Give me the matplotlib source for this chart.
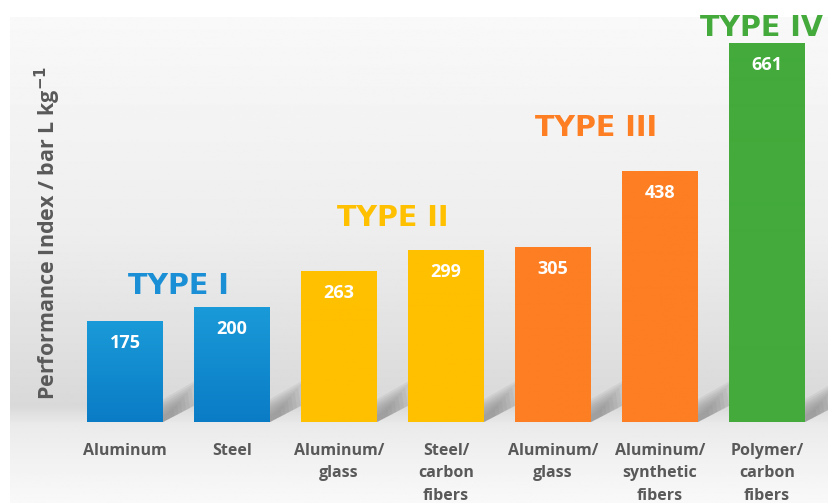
import numpy as np
import matplotlib
matplotlib.use('Agg')
import matplotlib.pyplot as plt
from matplotlib.patches import Polygon

# ── Data ──────────────────────────────────────────────────────────────────────
labels = ['Aluminum', 'Steel', 'Aluminum/\nglass', 'Steel/\ncarbon\nfibers',
          'Aluminum/\nglass', 'Aluminum/\nsynthetic\nfibers', 'Polymer/\ncarbon\nfibers']
values = [175, 200, 263, 299, 305, 438, 661]
groups = [0, 0, 1, 1, 2, 2, 3]
type_names = ['TYPE I', 'TYPE II', 'TYPE III', 'TYPE IV']
type_top = ['#1a9ad8', '#ffc000', '#fd7e23', '#43aa3b']
type_bottom = ['#0a7cc6', '#ffc000', '#fd7e23', '#43aa3b']
title_colors = ['#1a8fd5', '#ffc000', '#fd7e23', '#43aa3b']

# ── Figure ────────────────────────────────────────────────────────────────────
fig = plt.figure(figsize=(8.29, 5.03), dpi=100)
ax = fig.add_axes([0, 0, 1, 1])
ax.set_xlim(-1.168, 6.579)
ax.set_ylim(-141.4, 736.5)
ax.axis('off')

# background panel gradient (light top, grey near baseline, light again below)
stops = np.array([[0.0, 0.975], [0.45, 0.93], [0.80, 0.85], [0.84, 0.92],
                  [0.92, 0.95], [1.0, 0.975]])
rows = np.linspace(0, 1, 400)
shade = np.interp(rows, stops[:, 0], stops[:, 1])
bg = np.repeat(shade[:, None], 2, axis=1)
ax.imshow(bg, cmap='gray', vmin=0, vmax=1, aspect='auto',
          extent=(-1.075, 6.579, -141.4, 706.0), origin='upper', zorder=0)

x = np.arange(len(values))
w = 0.71

for i, (v, g) in enumerate(zip(values, groups)):
    # floor shadow, layered to fake a blur
    xr = x[i] + w / 2
    for k in range(8):
        s = 1 - k * 0.1
        poly = Polygon([(xr, 0), (xr, 40 * s), (xr + 0.33 * s, 75 * s), (xr + 0.36 * s, 35 * s)],
                       closed=True, color='#6a6a6a', alpha=0.09, lw=0, zorder=1)
        ax.add_patch(poly)
    # bar with vertical gradient
    c1 = np.array(matplotlib.colors.to_rgb(type_top[g]))
    c2 = np.array(matplotlib.colors.to_rgb(type_bottom[g]))
    t = np.linspace(0, 1, 100)[:, None]
    grad = (c1 * (1 - t) + c2 * t)[:, None, :]
    ax.imshow(grad, aspect='auto', extent=(x[i] - w / 2, x[i] + w / 2, 0, v),
              origin='upper', zorder=2)
    ax.text(x[i], v - 38, str(v), ha='center', va='center', color='white',
            fontsize=13, fontweight='bold', family='Open Sans', zorder=3)
    ax.text(x[i], -36, labels[i], ha='center', va='top', color='#595959',
            fontsize=11.5, fontweight='bold', family='Open Sans', linespacing=1.55)

# group titles
title_pos = [(0.5, 237), (2.5, 356), (4.4, 513), (5.95, 687)]
for name, col, (tx, ty) in zip(type_names, title_colors, title_pos):
    ax.text(tx, ty, name, ha='center', va='center', color=col,
            fontsize=20.5, fontweight='bold', family='DejaVu Sans', zorder=3)

ax.text(-0.72, 330, 'Performance Index / bar L kg$^{\\mathbf{-1}}$', rotation=90,
        ha='center', va='center', color='#595959', fontsize=15.5,
        fontweight='bold', family='Open Sans')

fig.savefig('out.png', dpi=100)
